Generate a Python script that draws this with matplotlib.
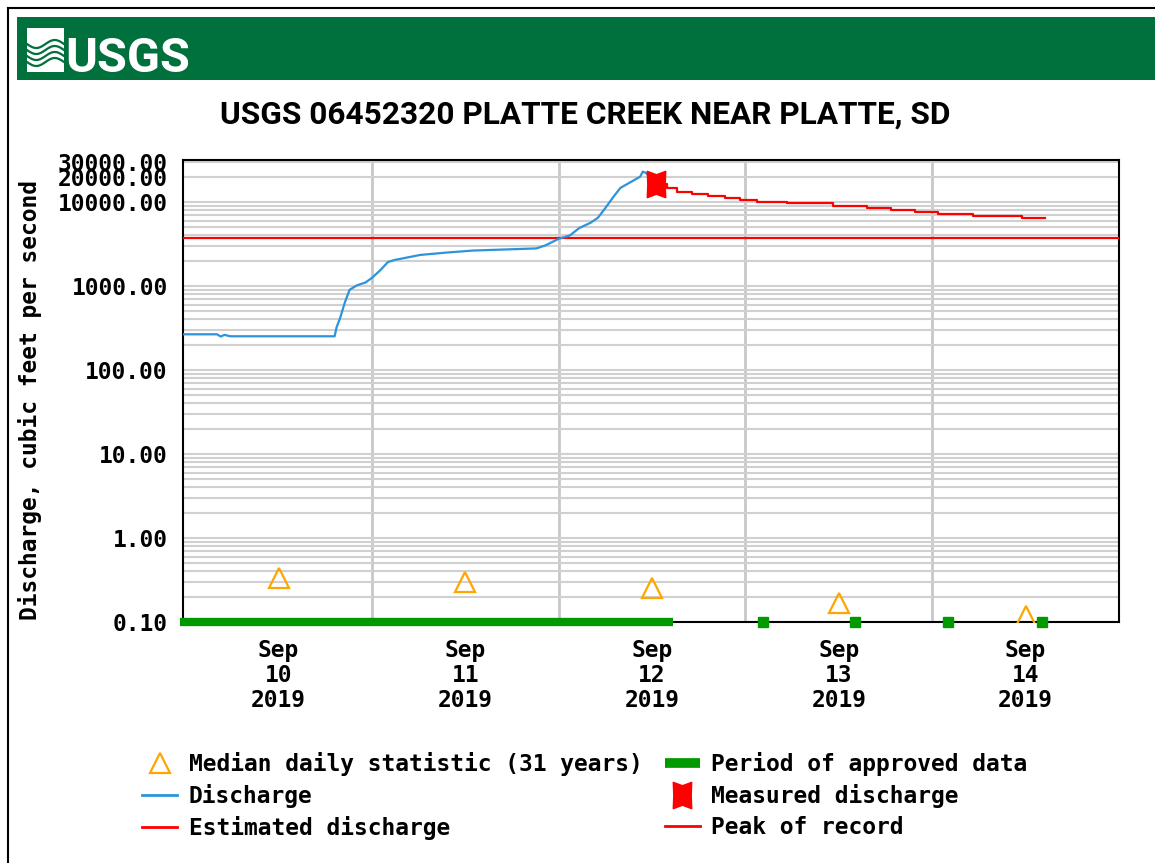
import numpy as np
import matplotlib.pyplot as plt
from matplotlib.lines import Line2D
from matplotlib.patches import Rectangle
from matplotlib.path import Path
from matplotlib.ticker import FixedLocator, LogLocator, NullFormatter

W, H = 1155, 863

# time axis: days since 2019-09-10 00:00
days_discharge = [-0.012, 0.17, 0.19, 0.21, 0.24, 0.80, 0.81, 0.83, 0.855, 0.88, 0.92,
                  0.965, 1.0, 1.043, 1.086, 1.124, 1.15, 1.257, 1.40, 1.54, 1.88, 1.93,
                  2.0, 2.06, 2.11, 2.17, 2.21, 2.25, 2.29, 2.33, 2.38, 2.436, 2.45, 2.47, 2.50]
discharge_cfs = [266, 266, 250, 262, 252, 252, 320, 420, 640, 900, 1020,
                 1100, 1250, 1530, 1930, 2050, 2100, 2340, 2500, 2640, 2800, 3050,
                 3650, 4000, 4900, 5650, 6500, 8500, 11300, 14700, 17000, 20000, 23000, 22000, 18000]

days_estimated = [2.52, 2.579, 2.633, 2.713, 2.799, 2.890, 2.970, 3.062, 3.222, 3.469, 3.651,
                  3.780, 3.908, 4.031, 4.219, 4.481, 4.605]
estimated_cfs = [16500, 14500, 13000, 12400, 11800, 11000, 10500, 10000, 9600, 9000, 8500,
                 8100, 7600, 7200, 6800, 6400, 6400]

measured_day = [2.52]
measured_cfs = [16500]

peak_cfs = 3700

median_days = [0.5, 1.5, 2.5, 3.5, 4.5]
median_cfs = [0.335, 0.30, 0.254, 0.168, 0.118]

approved_span = [-0.03, 2.61]
approved_days = [3.093, 3.586, 4.085, 4.589]

tick_days = [0.5, 1.5, 2.5, 3.5, 4.5]
tick_labels = ['Sep\n10\n2019', 'Sep\n11\n2019', 'Sep\n12\n2019', 'Sep\n13\n2019', 'Sep\n14\n2019']
y_ticks = [0.1, 1, 10, 100, 1000, 10000, 20000, 30000]

blue = '#2B94DC'
red = '#FF0000'
green = '#009A00'
orange = '#FFA500'
usgs_green = '#00703C'

mono = 'DejaVu Sans Mono'
fs = 16.5

fig = plt.figure(figsize=(11.55, 8.63), dpi=100)


def fx(x):
    return x / W


def fy(y):
    return 1 - y / H


# outer frame
fig.add_artist(Line2D([fx(8), fx(8)], [0, fy(8)], color='black', lw=1.5))
fig.add_artist(Line2D([fx(8), 1], [fy(8), fy(8)], color='black', lw=1.5))

# USGS banner
fig.add_artist(Rectangle((fx(17), fy(80)), 1 - fx(17), 63 / H, color=usgs_green, lw=0))
fig.add_artist(Rectangle((fx(27), fy(72)), 37 / W, 44 / H, color='white', lw=0))
wx = np.linspace(27, 64, 40)
for k in range(4):
    wy = 44 + k * 6 + 4 * np.sin((wx - 27) / 37 * 2 * np.pi)
    fig.add_artist(Line2D(fx(wx), fy(wy), color=usgs_green, lw=1.6))
fig.text(fx(65), fy(72), 'USGS', color='white', fontsize=35, fontweight='bold',
         family='Roboto', ha='left', va='baseline')

fig.text(fx(585), fy(115), 'USGS 06452320 PLATTE CREEK NEAR PLATTE, SD',
         fontsize=22.8, fontweight='bold', family='Roboto', ha='center', va='center')

ax = fig.add_axes([fx(183), fy(622), (1119 - 183) / W, (622 - 160) / H])
ax.set_yscale('log')
ax.set_ylim(0.1, 31600)
ax.set_xlim(-0.012, 5.0)

ax.yaxis.set_major_locator(FixedLocator(y_ticks))
ax.yaxis.set_minor_locator(LogLocator(base=10, subs=np.arange(2, 10)))
ax.yaxis.set_minor_formatter(NullFormatter())
ax.set_yticklabels([f'{v:.2f}' for v in y_ticks])
ax.set_xticks(tick_days, tick_labels)
ax.set_xticks([1, 2, 3, 4], minor=True)
ax.tick_params(which='both', length=0)
ax.tick_params(axis='y', pad=11)
ax.tick_params(axis='x', pad=12)
for lab in ax.get_xticklabels() + ax.get_yticklabels():
    lab.set_family(mono)
    lab.set_fontweight('bold')
    lab.set_fontsize(fs)
for lab in ax.get_xticklabels():
    lab.set_linespacing(1.12)

ax.set_axisbelow(True)
ax.yaxis.grid(True, which='both', color='#D0D0D0', lw=1.5)
ax.xaxis.grid(True, which='minor', color='#C8C8C8', lw=2)
for sp in ax.spines.values():
    sp.set_linewidth(1.5)

ax.set_ylabel('Discharge, cubic feet per second', family=mono, fontweight='bold', fontsize=fs)
ax.yaxis.set_label_coords(-0.151, 0.48)

ax.axhline(peak_cfs, color=red, lw=1.6, zorder=3)
ax.plot(days_discharge, discharge_cfs, color=blue, lw=1.6, zorder=4)
ax.plot(days_estimated, estimated_cfs, color=red, lw=1.6, drawstyle='steps-post', zorder=4)

notched = Path([(-0.35, 0.5), (0, 0.37), (0.35, 0.5), (0.33, 0), (0.35, -0.5),
                (0, -0.37), (-0.35, -0.5), (-0.33, 0), (-0.35, 0.5)],
               [Path.MOVETO] + [Path.LINETO] * 7 + [Path.CLOSEPOLY])
ax.plot(measured_day, measured_cfs, ls='none', marker=notched, ms=19, color=red, zorder=6)

ax.plot(median_days, median_cfs, ls='none', marker='^', ms=14, mfc='none', mec=orange,
        mew=1.6, zorder=6)

ax.plot(approved_span, [0.1, 0.1], color=green, lw=6, solid_capstyle='butt', clip_on=False, zorder=7)
ax.plot(approved_days, [0.1] * len(approved_days), ls='none', marker='s', ms=6.5, color=green,
        clip_on=False, zorder=7)

handles = [
    Line2D([], [], ls='none', marker='^', ms=14, mfc='none', mec=orange, mew=1.6),
    Line2D([], [], color=blue, lw=2),
    Line2D([], [], color=red, lw=2),
    Line2D([], [], color=green, lw=7, solid_capstyle='butt'),
    Line2D([], [], ls='none', marker=notched, ms=19, color=red),
    Line2D([], [], color=red, lw=2),
]
labels = ['Median daily statistic (31 years)', 'Discharge', 'Estimated discharge',
          'Period of approved data', 'Measured discharge', 'Peak of record']
fig.legend(handles, labels, ncol=2, loc='upper left', bbox_to_anchor=(fx(142), fy(752)),
           frameon=False, borderpad=0, borderaxespad=0, handlelength=1.53,
           handletextpad=0.52, columnspacing=0.95, labelspacing=0.34,
           prop={'family': mono, 'weight': 'bold', 'size': fs})

fig.savefig('out.png', dpi=100)
